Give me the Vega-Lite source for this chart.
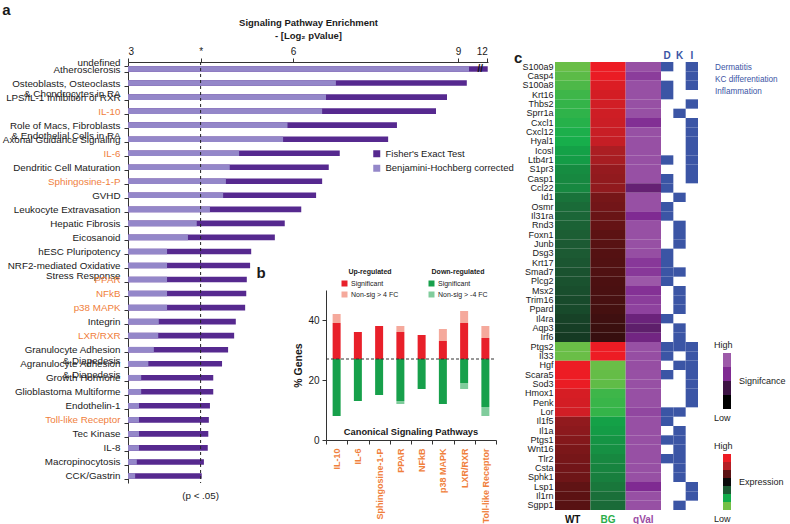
{
  "$schema": "https://vega.github.io/schema/vega-lite/v6.json",
  "background": "white",
  "padding": {"left": 2, "top": 2, "right": 0, "bottom": 0},
  "config": {
    "font": "Liberation Sans",
    "view": {"stroke": null},
    "axis": {"grid": false, "domainColor": "#333333", "tickColor": "#333333", "labelColor": "#1a1a1a", "titleColor": "#1a1a1a"},
    "legend": {"labelColor": "#1a1a1a", "titleColor": "#1a1a1a"},
    "title": {"color": "#1a1a1a"}
  },
  "datasets": {
    "pathways": [
      {"p": "Atherosclerosis", "test": "Fisher's Exact Test", "v": 12.1},
      {"p": "Osteoblasts, Osteoclasts|& Chondrocytes in RA", "test": "Fisher's Exact Test", "v": 9.16},
      {"p": "LPS/IL-1 Inhibition of RXR", "test": "Fisher's Exact Test", "v": 8.8},
      {"p": "IL-10", "test": "Fisher's Exact Test", "v": 8.6},
      {"p": "Role of Macs, Fibroblasts|& Endothelial Cells in RA", "test": "Fisher's Exact Test", "v": 7.89},
      {"p": "Axonal Guidance Signaling", "test": "Fisher's Exact Test", "v": 7.73},
      {"p": "IL-6", "test": "Fisher's Exact Test", "v": 6.85},
      {"p": "Dendritic Cell Maturation", "test": "Fisher's Exact Test", "v": 6.65},
      {"p": "Sphingosine-1-P", "test": "Fisher's Exact Test", "v": 6.53},
      {"p": "GVHD", "test": "Fisher's Exact Test", "v": 6.42},
      {"p": "Leukocyte Extravasation", "test": "Fisher's Exact Test", "v": 6.15},
      {"p": "Hepatic Fibrosis", "test": "Fisher's Exact Test", "v": 5.85},
      {"p": "Eicosanoid", "test": "Fisher's Exact Test", "v": 5.67},
      {"p": "hESC Pluripotency", "test": "Fisher's Exact Test", "v": 5.24},
      {"p": "NRF2-mediated Oxidative|Stress Response", "test": "Fisher's Exact Test", "v": 5.22},
      {"p": "PPAR", "test": "Fisher's Exact Test", "v": 5.16},
      {"p": "NFkB", "test": "Fisher's Exact Test", "v": 5.15},
      {"p": "p38 MAPK", "test": "Fisher's Exact Test", "v": 5.13},
      {"p": "Integrin", "test": "Fisher's Exact Test", "v": 4.96},
      {"p": "LXR/RXR", "test": "Fisher's Exact Test", "v": 4.93},
      {"p": "Granulocyte Adhesion|& Diapedesis", "test": "Fisher's Exact Test", "v": 4.82},
      {"p": "Agranulocyte Adhesion|& Diapedesis", "test": "Fisher's Exact Test", "v": 4.71},
      {"p": "Growth Hormone", "test": "Fisher's Exact Test", "v": 4.55},
      {"p": "Glioblastoma Multiforme", "test": "Fisher's Exact Test", "v": 4.55},
      {"p": "Endothelin-1", "test": "Fisher's Exact Test", "v": 4.49},
      {"p": "Toll-like Receptor", "test": "Fisher's Exact Test", "v": 4.47},
      {"p": "Tec Kinase", "test": "Fisher's Exact Test", "v": 4.46},
      {"p": "IL-8", "test": "Fisher's Exact Test", "v": 4.45},
      {"p": "Macropinocytosis", "test": "Fisher's Exact Test", "v": 4.38},
      {"p": "CCK/Gastrin", "test": "Fisher's Exact Test", "v": 4.34},
      {"p": "Atherosclerosis", "test": "Benjamini-Hochberg corrected", "v": 9.2},
      {"p": "Osteoblasts, Osteoclasts|& Chondrocytes in RA", "test": "Benjamini-Hochberg corrected", "v": 6.78},
      {"p": "LPS/IL-1 Inhibition of RXR", "test": "Benjamini-Hochberg corrected", "v": 6.6},
      {"p": "IL-10", "test": "Benjamini-Hochberg corrected", "v": 6.53},
      {"p": "Role of Macs, Fibroblasts|& Endothelial Cells in RA", "test": "Benjamini-Hochberg corrected", "v": 5.9},
      {"p": "Axonal Guidance Signaling", "test": "Benjamini-Hochberg corrected", "v": 5.82},
      {"p": "IL-6", "test": "Benjamini-Hochberg corrected", "v": 5.02},
      {"p": "Dendritic Cell Maturation", "test": "Benjamini-Hochberg corrected", "v": 4.85},
      {"p": "Sphingosine-1-P", "test": "Benjamini-Hochberg corrected", "v": 4.78},
      {"p": "GVHD", "test": "Benjamini-Hochberg corrected", "v": 4.73},
      {"p": "Leukocyte Extravasation", "test": "Benjamini-Hochberg corrected", "v": 4.49},
      {"p": "Hepatic Fibrosis", "test": "Benjamini-Hochberg corrected", "v": 4.25},
      {"p": "Eicosanoid", "test": "Benjamini-Hochberg corrected", "v": 4.09},
      {"p": "hESC Pluripotency", "test": "Benjamini-Hochberg corrected", "v": 3.71},
      {"p": "NRF2-mediated Oxidative|Stress Response", "test": "Benjamini-Hochberg corrected", "v": 3.71},
      {"p": "PPAR", "test": "Benjamini-Hochberg corrected", "v": 3.71},
      {"p": "NFkB", "test": "Benjamini-Hochberg corrected", "v": 3.71},
      {"p": "p38 MAPK", "test": "Benjamini-Hochberg corrected", "v": 3.71},
      {"p": "Integrin", "test": "Benjamini-Hochberg corrected", "v": 3.56},
      {"p": "LXR/RXR", "test": "Benjamini-Hochberg corrected", "v": 3.55},
      {"p": "Granulocyte Adhesion|& Diapedesis", "test": "Benjamini-Hochberg corrected", "v": 3.47},
      {"p": "Agranulocyte Adhesion|& Diapedesis", "test": "Benjamini-Hochberg corrected", "v": 3.37},
      {"p": "Growth Hormone", "test": "Benjamini-Hochberg corrected", "v": 3.24},
      {"p": "Glioblastoma Multiforme", "test": "Benjamini-Hochberg corrected", "v": 3.24},
      {"p": "Endothelin-1", "test": "Benjamini-Hochberg corrected", "v": 3.2},
      {"p": "Toll-like Receptor", "test": "Benjamini-Hochberg corrected", "v": 3.2},
      {"p": "Tec Kinase", "test": "Benjamini-Hochberg corrected", "v": 3.2},
      {"p": "IL-8", "test": "Benjamini-Hochberg corrected", "v": 3.2},
      {"p": "Macropinocytosis", "test": "Benjamini-Hochberg corrected", "v": 3.16},
      {"p": "CCK/Gastrin", "test": "Benjamini-Hochberg corrected", "v": 3.13}
    ],
    "bUp": [
      {"pw": "IL-10", "cat": "Significant", "lo": 27, "hi": 39},
      {"pw": "IL-10", "cat": "Non-sig > 4 FC", "lo": 39, "hi": 42},
      {"pw": "IL-6", "cat": "Significant", "lo": 27, "hi": 36},
      {"pw": "Sphingosine-1-P", "cat": "Significant", "lo": 27, "hi": 38},
      {"pw": "PPAR", "cat": "Significant", "lo": 27, "hi": 36},
      {"pw": "PPAR", "cat": "Non-sig > 4 FC", "lo": 36, "hi": 38},
      {"pw": "NFkB", "cat": "Significant", "lo": 27, "hi": 35},
      {"pw": "p38 MAPK", "cat": "Significant", "lo": 27, "hi": 33},
      {"pw": "p38 MAPK", "cat": "Non-sig > 4 FC", "lo": 33, "hi": 37},
      {"pw": "LXR/RXR", "cat": "Significant", "lo": 27, "hi": 39},
      {"pw": "LXR/RXR", "cat": "Non-sig > 4 FC", "lo": 39, "hi": 43},
      {"pw": "Toll-like Receptor", "cat": "Significant", "lo": 27, "hi": 34},
      {"pw": "Toll-like Receptor", "cat": "Non-sig > 4 FC", "lo": 34, "hi": 38}
    ],
    "bDown": [
      {"pw": "IL-10", "cat": "Significant", "lo": 8, "hi": 27},
      {"pw": "IL-6", "cat": "Significant", "lo": 13, "hi": 27},
      {"pw": "Sphingosine-1-P", "cat": "Significant", "lo": 15, "hi": 27},
      {"pw": "PPAR", "cat": "Significant", "lo": 13, "hi": 27},
      {"pw": "PPAR", "cat": "Non-sig > -4 FC", "lo": 12, "hi": 13},
      {"pw": "NFkB", "cat": "Significant", "lo": 17, "hi": 27},
      {"pw": "p38 MAPK", "cat": "Significant", "lo": 12, "hi": 27},
      {"pw": "LXR/RXR", "cat": "Significant", "lo": 19, "hi": 27},
      {"pw": "LXR/RXR", "cat": "Non-sig > -4 FC", "lo": 17, "hi": 19},
      {"pw": "Toll-like Receptor", "cat": "Significant", "lo": 11, "hi": 27},
      {"pw": "Toll-like Receptor", "cat": "Non-sig > -4 FC", "lo": 8, "hi": 11}
    ],
    "heatExpr": [
      {"gene": "S100a9", "col": "WT", "val": -2.9}, {"gene": "S100a9", "col": "BG", "val": 3.0},
      {"gene": "Casp4", "col": "WT", "val": -2.75}, {"gene": "Casp4", "col": "BG", "val": 2.95},
      {"gene": "S100a8", "col": "WT", "val": -2.6}, {"gene": "S100a8", "col": "BG", "val": 2.7},
      {"gene": "Krt16", "col": "WT", "val": -2.45}, {"gene": "Krt16", "col": "BG", "val": 2.55},
      {"gene": "Thbs2", "col": "WT", "val": -2.35}, {"gene": "Thbs2", "col": "BG", "val": 2.5},
      {"gene": "Sprr1a", "col": "WT", "val": -2.3}, {"gene": "Sprr1a", "col": "BG", "val": 2.45},
      {"gene": "Cxcl1", "col": "WT", "val": -2.2}, {"gene": "Cxcl1", "col": "BG", "val": 2.4},
      {"gene": "Cxcl12", "col": "WT", "val": -2.1}, {"gene": "Cxcl12", "col": "BG", "val": 2.35},
      {"gene": "Hyal1", "col": "WT", "val": -2.05}, {"gene": "Hyal1", "col": "BG", "val": 2.3},
      {"gene": "Icosl", "col": "WT", "val": -1.85}, {"gene": "Icosl", "col": "BG", "val": 1.9},
      {"gene": "Ltb4r1", "col": "WT", "val": -1.8}, {"gene": "Ltb4r1", "col": "BG", "val": 1.85},
      {"gene": "S1pr3", "col": "WT", "val": -1.6}, {"gene": "S1pr3", "col": "BG", "val": 1.65},
      {"gene": "Casp1", "col": "WT", "val": -1.55}, {"gene": "Casp1", "col": "BG", "val": 1.6},
      {"gene": "Ccl22", "col": "WT", "val": -1.55}, {"gene": "Ccl22", "col": "BG", "val": 1.6},
      {"gene": "Id1", "col": "WT", "val": -1.3}, {"gene": "Id1", "col": "BG", "val": 1.3},
      {"gene": "Osmr", "col": "WT", "val": -1.2}, {"gene": "Osmr", "col": "BG", "val": 1.25},
      {"gene": "Il31ra", "col": "WT", "val": -1.15}, {"gene": "Il31ra", "col": "BG", "val": 1.15},
      {"gene": "Rnd3", "col": "WT", "val": -1.1}, {"gene": "Rnd3", "col": "BG", "val": 1.1},
      {"gene": "Foxn1", "col": "WT", "val": -1.05}, {"gene": "Foxn1", "col": "BG", "val": 1.0},
      {"gene": "Junb", "col": "WT", "val": -1.0}, {"gene": "Junb", "col": "BG", "val": 0.95},
      {"gene": "Dsg3", "col": "WT", "val": -1.0}, {"gene": "Dsg3", "col": "BG", "val": 0.9},
      {"gene": "Krt17", "col": "WT", "val": -0.95}, {"gene": "Krt17", "col": "BG", "val": 0.88},
      {"gene": "Smad7", "col": "WT", "val": -0.9}, {"gene": "Smad7", "col": "BG", "val": 0.85},
      {"gene": "Plcg2", "col": "WT", "val": -0.9}, {"gene": "Plcg2", "col": "BG", "val": 0.8},
      {"gene": "Msx2", "col": "WT", "val": -0.85}, {"gene": "Msx2", "col": "BG", "val": 0.78},
      {"gene": "Trim16", "col": "WT", "val": -0.8}, {"gene": "Trim16", "col": "BG", "val": 0.75},
      {"gene": "Ppard", "col": "WT", "val": -0.8}, {"gene": "Ppard", "col": "BG", "val": 0.72},
      {"gene": "Il4ra", "col": "WT", "val": -0.7}, {"gene": "Il4ra", "col": "BG", "val": 0.65},
      {"gene": "Aqp3", "col": "WT", "val": -0.65}, {"gene": "Aqp3", "col": "BG", "val": 0.6},
      {"gene": "Irf6", "col": "WT", "val": -0.6}, {"gene": "Irf6", "col": "BG", "val": 0.55},
      {"gene": "Ptgs2", "col": "WT", "val": -2.9}, {"gene": "Ptgs2", "col": "BG", "val": 3.0},
      {"gene": "Il33", "col": "WT", "val": -2.9}, {"gene": "Il33", "col": "BG", "val": 3.0},
      {"gene": "Hgf", "col": "WT", "val": 3.0}, {"gene": "Hgf", "col": "BG", "val": -2.9},
      {"gene": "Scara5", "col": "WT", "val": 3.0}, {"gene": "Scara5", "col": "BG", "val": -2.85},
      {"gene": "Sod3", "col": "WT", "val": 2.95}, {"gene": "Sod3", "col": "BG", "val": -2.8},
      {"gene": "Hmox1", "col": "WT", "val": 2.6}, {"gene": "Hmox1", "col": "BG", "val": -2.45},
      {"gene": "Penk", "col": "WT", "val": 2.55}, {"gene": "Penk", "col": "BG", "val": -2.4},
      {"gene": "Lor", "col": "WT", "val": 2.5}, {"gene": "Lor", "col": "BG", "val": -2.35},
      {"gene": "Il1f5", "col": "WT", "val": 1.6}, {"gene": "Il1f5", "col": "BG", "val": -1.85},
      {"gene": "Il1a", "col": "WT", "val": 1.55}, {"gene": "Il1a", "col": "BG", "val": -1.8},
      {"gene": "Ptgs1", "col": "WT", "val": 1.45}, {"gene": "Ptgs1", "col": "BG", "val": -1.7},
      {"gene": "Wnt16", "col": "WT", "val": 1.35}, {"gene": "Wnt16", "col": "BG", "val": -1.65},
      {"gene": "Tlr2", "col": "WT", "val": 1.3}, {"gene": "Tlr2", "col": "BG", "val": -1.55},
      {"gene": "Csta", "col": "WT", "val": 1.25}, {"gene": "Csta", "col": "BG", "val": -1.5},
      {"gene": "Sphk1", "col": "WT", "val": 1.2}, {"gene": "Sphk1", "col": "BG", "val": -1.45},
      {"gene": "Lsp1", "col": "WT", "val": 1.05}, {"gene": "Lsp1", "col": "BG", "val": -1.35},
      {"gene": "Il1rn", "col": "WT", "val": 1.0}, {"gene": "Il1rn", "col": "BG", "val": -1.25},
      {"gene": "Sgpp1", "col": "WT", "val": 0.95}, {"gene": "Sgpp1", "col": "BG", "val": -1.2}
    ],
    "heatQ": [
      {"gene": "S100a9", "col": "qVal", "val": 2.8}, {"gene": "Casp4", "col": "qVal", "val": 2.4},
      {"gene": "S100a8", "col": "qVal", "val": 2.8}, {"gene": "Krt16", "col": "qVal", "val": 2.8},
      {"gene": "Thbs2", "col": "qVal", "val": 2.8}, {"gene": "Sprr1a", "col": "qVal", "val": 2.8},
      {"gene": "Cxcl1", "col": "qVal", "val": 2.1}, {"gene": "Cxcl12", "col": "qVal", "val": 2.8},
      {"gene": "Hyal1", "col": "qVal", "val": 2.8}, {"gene": "Icosl", "col": "qVal", "val": 2.8},
      {"gene": "Ltb4r1", "col": "qVal", "val": 2.8}, {"gene": "S1pr3", "col": "qVal", "val": 2.8},
      {"gene": "Casp1", "col": "qVal", "val": 2.8}, {"gene": "Ccl22", "col": "qVal", "val": 1.6},
      {"gene": "Id1", "col": "qVal", "val": 2.8}, {"gene": "Osmr", "col": "qVal", "val": 2.8},
      {"gene": "Il31ra", "col": "qVal", "val": 2.0}, {"gene": "Rnd3", "col": "qVal", "val": 2.8},
      {"gene": "Foxn1", "col": "qVal", "val": 2.8}, {"gene": "Junb", "col": "qVal", "val": 2.8},
      {"gene": "Dsg3", "col": "qVal", "val": 2.75}, {"gene": "Krt17", "col": "qVal", "val": 2.3},
      {"gene": "Smad7", "col": "qVal", "val": 2.3}, {"gene": "Plcg2", "col": "qVal", "val": 2.95},
      {"gene": "Msx2", "col": "qVal", "val": 2.15}, {"gene": "Trim16", "col": "qVal", "val": 2.4},
      {"gene": "Ppard", "col": "qVal", "val": 2.5}, {"gene": "Il4ra", "col": "qVal", "val": 1.7},
      {"gene": "Aqp3", "col": "qVal", "val": 1.5}, {"gene": "Irf6", "col": "qVal", "val": 1.8},
      {"gene": "Ptgs2", "col": "qVal", "val": 2.8}, {"gene": "Il33", "col": "qVal", "val": 2.75},
      {"gene": "Hgf", "col": "qVal", "val": 2.75}, {"gene": "Scara5", "col": "qVal", "val": 2.8},
      {"gene": "Sod3", "col": "qVal", "val": 2.8}, {"gene": "Hmox1", "col": "qVal", "val": 2.8},
      {"gene": "Penk", "col": "qVal", "val": 2.8}, {"gene": "Lor", "col": "qVal", "val": 2.6},
      {"gene": "Il1f5", "col": "qVal", "val": 2.8}, {"gene": "Il1a", "col": "qVal", "val": 2.8},
      {"gene": "Ptgs1", "col": "qVal", "val": 2.8}, {"gene": "Wnt16", "col": "qVal", "val": 2.8},
      {"gene": "Tlr2", "col": "qVal", "val": 2.8}, {"gene": "Csta", "col": "qVal", "val": 2.8},
      {"gene": "Sphk1", "col": "qVal", "val": 2.8}, {"gene": "Lsp1", "col": "qVal", "val": 2.0},
      {"gene": "Il1rn", "col": "qVal", "val": 2.8}, {"gene": "Sgpp1", "col": "qVal", "val": 2.8}
    ],
    "dki": [
      {"gene": "S100a9", "cat": "D"}, {"gene": "S100a9", "cat": "I"},
      {"gene": "Casp4", "cat": "I"},
      {"gene": "S100a8", "cat": "D"}, {"gene": "S100a8", "cat": "I"},
      {"gene": "Krt16", "cat": "D"},
      {"gene": "Thbs2", "cat": "I"},
      {"gene": "Sprr1a", "cat": "K"},
      {"gene": "Cxcl1", "cat": "I"},
      {"gene": "Cxcl12", "cat": "I"},
      {"gene": "Hyal1", "cat": "I"},
      {"gene": "Icosl", "cat": "I"},
      {"gene": "Ltb4r1", "cat": "D"}, {"gene": "Ltb4r1", "cat": "I"},
      {"gene": "S1pr3", "cat": "I"},
      {"gene": "Casp1", "cat": "D"}, {"gene": "Casp1", "cat": "I"},
      {"gene": "Ccl22", "cat": "D"},
      {"gene": "Id1", "cat": "K"},
      {"gene": "Osmr", "cat": "D"},
      {"gene": "Il31ra", "cat": "D"},
      {"gene": "Rnd3", "cat": "K"},
      {"gene": "Foxn1", "cat": "K"},
      {"gene": "Junb", "cat": "K"},
      {"gene": "Dsg3", "cat": "D"},
      {"gene": "Krt17", "cat": "D"},
      {"gene": "Smad7", "cat": "D"}, {"gene": "Smad7", "cat": "K"},
      {"gene": "Plcg2", "cat": "D"},
      {"gene": "Msx2", "cat": "K"},
      {"gene": "Trim16", "cat": "K"},
      {"gene": "Ppard", "cat": "K"},
      {"gene": "Il4ra", "cat": "D"},
      {"gene": "Aqp3", "cat": "K"},
      {"gene": "Irf6", "cat": "K"},
      {"gene": "Ptgs2", "cat": "D"}, {"gene": "Ptgs2", "cat": "K"}, {"gene": "Ptgs2", "cat": "I"},
      {"gene": "Il33", "cat": "D"}, {"gene": "Il33", "cat": "I"},
      {"gene": "Hgf", "cat": "K"}, {"gene": "Hgf", "cat": "I"},
      {"gene": "Scara5", "cat": "D"}, {"gene": "Scara5", "cat": "I"},
      {"gene": "Sod3", "cat": "I"},
      {"gene": "Hmox1", "cat": "I"},
      {"gene": "Penk", "cat": "I"},
      {"gene": "Lor", "cat": "D"}, {"gene": "Lor", "cat": "K"},
      {"gene": "Il1f5", "cat": "D"},
      {"gene": "Il1a", "cat": "K"},
      {"gene": "Ptgs1", "cat": "D"}, {"gene": "Ptgs1", "cat": "K"},
      {"gene": "Wnt16", "cat": "K"},
      {"gene": "Tlr2", "cat": "D"}, {"gene": "Tlr2", "cat": "K"},
      {"gene": "Csta", "cat": "K"},
      {"gene": "Sphk1", "cat": "K"},
      {"gene": "Lsp1", "cat": "I"},
      {"gene": "Il1rn", "cat": "I"},
      {"gene": "Sgpp1", "cat": "K"}
    ]
  },
  "hconcat": [
    {
      "width": 360,
      "height": 421,
      "title": {"text": "a", "anchor": "start", "frame": "bounds", "fontSize": 15, "fontWeight": "bold", "offset": 0},
      "layer": [
        {
          "layer": [
            {
              "data": {"name": "pathways"},
              "mark": {"type": "bar"},
              "encoding": {
                "y": {
                  "field": "p", "type": "nominal", "sort": null,
                  "scale": {"paddingInner": 0.6, "paddingOuter": 0.3},
                  "axis": {
                    "title": null, "labelExpr": "split(datum.value, '|')", "labelFontSize": 9.8, "labelLineHeight": 10.5,
                    "labelOverlap": false, "labelPadding": 4, "tickSize": 4, "tickBand": "extent",
                    "minExtent": 116, "maxExtent": 116,
                    "labelColor": {"condition": {"test": "indexof(['IL-10','IL-6','Sphingosine-1-P','PPAR','NFkB','p38 MAPK','LXR/RXR','Toll-like Receptor'], datum.value) >= 0", "value": "#f0803c"}, "value": "#1a1a1a"}
                  }
                },
                "x": {
                  "field": "v", "type": "quantitative", "stack": null,
                  "scale": {"domain": [3, 9.4, 12.2], "range": [0, 352, 360], "zero": false, "nice": false},
                  "axis": {
                    "orient": "top", "values": [3, 4.32, 6, 9, 12],
                    "labelExpr": "datum.value == 4.32 ? '*' : datum.label",
                    "labelFontSize": 10, "tickSize": 4, "labelPadding": 2,
                    "title": ["Signaling Pathway Enrichment", "- [Log₂ pValue]"],
                    "titleFontSize": 9.5, "titleFontWeight": "bold", "titleLineHeight": 12.5, "titlePadding": 6
                  }
                },
                "x2": {"datum": 3},
                "color": {
                  "field": "test", "type": "nominal",
                  "scale": {"domain": ["Fisher's Exact Test", "Benjamini-Hochberg corrected"], "range": ["#56298f", "#9487c9"]},
                  "legend": {
                    "orient": "none", "legendX": 244, "legendY": 87, "title": null,
                    "symbolType": "square", "symbolSize": 49, "symbolStrokeWidth": 0,
                    "labelFontSize": 9.5, "labelOffset": 4, "rowPadding": 3.5, "padding": 0
                  }
                }
              }
            },
            {
              "data": {"values": [{}]},
              "mark": {"type": "text", "fontSize": 9.8, "dy": 20, "color": "#1a1a1a"},
              "encoding": {"x": {"datum": 4.32}, "y": {"datum": "CCK/Gastrin"}, "text": {"value": "(p < .05)"}}
            },
            {
              "data": {"values": [{}]},
              "mark": {"type": "text", "fontSize": 10, "fontWeight": "bold", "color": "#111111"},
              "encoding": {"x": {"datum": 9.5}, "y": {"datum": "Atherosclerosis"}, "text": {"value": "//"}}
            }
          ]
        },
        {
          "data": {"values": [{}]},
          "mark": {"type": "rule", "strokeDash": [3, 3], "color": "#222222", "strokeWidth": 1},
          "encoding": {"x": {"datum": 4.32, "scale": {"domain": [3, 9.4, 12.2], "range": [0, 352, 360], "zero": false, "nice": false}, "axis": null}}
        },
        {
          "layer": [
            {
              "encoding": {
                "x": {
                  "field": "pw", "type": "nominal", "sort": null,
                  "scale": {"domain": ["IL-10", "IL-6", "Sphingosine-1-P", "PPAR", "NFkB", "p38 MAPK", "LXR/RXR", "Toll-like Receptor"], "range": [198, 368], "paddingInner": 0, "paddingOuter": 0},
                  "axis": {
                    "orient": "bottom", "offset": -43, "labelAngle": -90, "labelColor": "#f0803c", "labelFontWeight": "bold",
                    "labelFontSize": 9, "labelPadding": 4, "tickSize": 4, "tickBand": "extent",
                    "title": "b", "titleX": 128, "titleY": -168, "titleFontSize": 15, "titleFontWeight": "bold",
                    "titleAngle": 0, "titleAlign": "left", "titleBaseline": "middle"
                  }
                },
                "y": {
                  "field": "lo", "type": "quantitative",
                  "scale": {"domain": [0, 50], "range": [378, 228], "zero": false, "nice": false},
                  "axis": {
                    "orient": "left", "offset": -198, "values": [0, 20, 40], "title": "% Genes",
                    "titleFontSize": 10.5, "titleFontWeight": "bold", "titlePadding": 4,
                    "labelFontSize": 10, "labelPadding": 3, "tickSize": 4
                  }
                },
                "y2": {"field": "hi"}
              },
              "layer": [
                {
                  "data": {"name": "bUp"},
                  "mark": {"type": "bar", "width": 8},
                  "encoding": {
                    "color": {
                      "field": "cat", "type": "nominal",
                      "scale": {"domain": ["Significant", "Non-sig > 4 FC"], "range": ["#e8202a", "#f5a99c"]},
                      "legend": {
                        "orient": "none", "legendX": 213, "legendY": 206, "title": "Up-regulated",
                        "titleFontSize": 7, "titleFontWeight": "bold", "titleAnchor": "middle", "titlePadding": 5,
                        "symbolType": "square", "symbolSize": 36, "symbolStrokeWidth": 0,
                        "labelFontSize": 7, "labelOffset": 3, "rowPadding": 3, "padding": 0
                      }
                    }
                  }
                },
                {
                  "data": {"name": "bDown"},
                  "mark": {"type": "bar", "width": 8},
                  "encoding": {
                    "fill": {
                      "field": "cat", "type": "nominal",
                      "scale": {"domain": ["Significant", "Non-sig > -4 FC"], "range": ["#17a04b", "#80cc9c"]},
                      "legend": {
                        "orient": "none", "legendX": 300, "legendY": 206, "title": "Down-regulated",
                        "titleFontSize": 7, "titleFontWeight": "bold", "titleAnchor": "middle", "titlePadding": 5,
                        "symbolType": "square", "symbolSize": 36, "symbolStrokeWidth": 0,
                        "labelFontSize": 7, "labelOffset": 3, "rowPadding": 3, "padding": 0
                      }
                    }
                  }
                }
              ]
            },
            {
              "data": {"values": [{}]},
              "mark": {"type": "rule", "strokeDash": [3, 2], "color": "#333333"},
              "encoding": {
                "x": {"datum": "IL-10", "bandPosition": 0},
                "x2": {"datum": "Toll-like Receptor", "bandPosition": 1},
                "y": {"datum": 27}
              }
            },
            {
              "data": {"values": [{}]},
              "mark": {"type": "text", "fontSize": 9.3, "fontWeight": "bold", "color": "#1a1a1a"},
              "encoding": {
                "x": {"datum": "NFkB", "bandPosition": 0},
                "y": {"datum": 2.7},
                "text": {"value": "Canonical Signaling Pathways"}
              }
            }
          ]
        }
      ],
      "resolve": {
        "scale": {"x": "independent", "y": "independent", "color": "independent"},
        "axis": {"x": "independent", "y": "independent"},
        "legend": {"color": "independent"}
      }
    },
    {
      "width": 143,
      "height": 448,
      "title": {"text": "c", "anchor": "start", "frame": "bounds", "fontSize": 15, "fontWeight": "bold", "offset": -16},
      "layer": [
        {
          "encoding": {
            "x": {
              "field": "col", "type": "nominal", "sort": null,
              "scale": {"domain": ["WT", "BG", "qVal"], "range": [0, 106], "paddingInner": 0, "paddingOuter": 0},
              "axis": {
                "orient": "bottom", "title": null, "domain": false, "ticks": false, "labelAngle": 0,
                "labelFontWeight": "bold", "labelFontSize": 10, "labelPadding": 4,
                "labelColor": {"condition": [{"test": "datum.value == 'BG'", "value": "#2bae4a"}, {"test": "datum.value == 'qVal'", "value": "#9b4ca4"}], "value": "#111111"}
              }
            },
            "y": {
              "field": "gene", "type": "nominal", "sort": null,
              "scale": {"domain": ["S100a9","Casp4","S100a8","Krt16","Thbs2","Sprr1a","Cxcl1","Cxcl12","Hyal1","Icosl","Ltb4r1","S1pr3","Casp1","Ccl22","Id1","Osmr","Il31ra","Rnd3","Foxn1","Junb","Dsg3","Krt17","Smad7","Plcg2","Msx2","Trim16","Ppard","Il4ra","Aqp3","Irf6","Ptgs2","Il33","Hgf","Scara5","Sod3","Hmox1","Penk","Lor","Il1f5","Il1a","Ptgs1","Wnt16","Tlr2","Csta","Sphk1","Lsp1","Il1rn","Sgpp1"], "paddingInner": 0, "paddingOuter": 0},
              "axis": {"title": null, "domain": false, "ticks": false, "labelFontSize": 9, "labelPadding": 2, "minExtent": 41, "maxExtent": 41, "labelOverlap": false}
            }
          },
          "layer": [
            {
              "data": {"name": "heatExpr"},
              "mark": {"type": "rect"},
              "encoding": {
                "color": {"field": "val", "type": "quantitative", "scale": {"domain": [-3, -2, -1, 0, 1, 2, 3], "range": ["#74c046", "#12ad4b", "#1c5a33", "#0a0a0a", "#5c1213", "#b41f25", "#ed1c24"], "interpolate": "rgb"}, "legend": null}
              }
            },
            {
              "data": {"name": "heatQ"},
              "mark": {"type": "rect"},
              "encoding": {
                "fill": {"field": "val", "type": "quantitative", "scale": {"domain": [0, 1, 2, 3], "range": ["#000000", "#3d1344", "#7f2a92", "#9d5aa9"], "interpolate": "rgb"}, "legend": null}
              }
            }
          ]
        },
        {
          "data": {"name": "dki"},
          "mark": {"type": "rect", "color": "#3b55a5"},
          "encoding": {
            "x": {
              "field": "cat", "type": "nominal", "sort": null,
              "scale": {"domain": ["D", "K", "I"], "range": [106, 143], "paddingInner": 0, "paddingOuter": 0},
              "axis": {"orient": "top", "title": null, "domain": false, "ticks": false, "labelAngle": 0, "labelFontWeight": "bold", "labelColor": "#3b55a5", "labelFontSize": 10, "labelPadding": 2}
            },
            "y": {
              "field": "gene", "type": "nominal", "sort": null,
              "scale": {"domain": ["S100a9","Casp4","S100a8","Krt16","Thbs2","Sprr1a","Cxcl1","Cxcl12","Hyal1","Icosl","Ltb4r1","S1pr3","Casp1","Ccl22","Id1","Osmr","Il31ra","Rnd3","Foxn1","Junb","Dsg3","Krt17","Smad7","Plcg2","Msx2","Trim16","Ppard","Il4ra","Aqp3","Irf6","Ptgs2","Il33","Hgf","Scara5","Sod3","Hmox1","Penk","Lor","Il1f5","Il1a","Ptgs1","Wnt16","Tlr2","Csta","Sphk1","Lsp1","Il1rn","Sgpp1"], "paddingInner": 0, "paddingOuter": 0},
              "axis": null
            }
          }
        },
        {
          "data": {"values": [{"k": "D", "lab": "Dermatitis"}, {"k": "K", "lab": "KC differentiation"}, {"k": "I", "lab": "Inflammation"}]},
          "mark": {"type": "text", "align": "left", "baseline": "middle", "fontSize": 8.2, "color": "#3b55a5"},
          "encoding": {
            "y": {"field": "k", "type": "nominal", "sort": null, "scale": {"domain": ["D", "K", "I"], "range": [0, 36], "paddingInner": 0, "paddingOuter": 0}, "axis": null},
            "x": {"datum": "t", "bandPosition": 0, "scale": {"domain": ["t"], "range": [159, 161], "paddingInner": 0, "paddingOuter": 0}, "axis": null},
            "text": {"field": "lab"}
          }
        },
        {
          "layer": [
            {
              "data": {"values": [{"k": "q3", "c": "bar", "val": 3}, {"k": "q2", "c": "bar", "val": 2}, {"k": "q1", "c": "bar", "val": 1}, {"k": "q0", "c": "bar", "val": 0}]},
              "mark": {"type": "rect"},
              "encoding": {
                "y": {"field": "k", "type": "nominal", "sort": null, "scale": {"domain": ["q3", "q2", "q1", "q0"], "range": [291, 347], "paddingInner": 0, "paddingOuter": 0}, "axis": null},
                "x": {"field": "c", "type": "nominal", "scale": {"domain": ["bar"], "range": [168, 176], "paddingInner": 0, "paddingOuter": 0}, "axis": null},
                "fill": {"field": "val", "type": "quantitative", "scale": {"domain": [0, 1, 2, 3], "range": ["#000000", "#3d1344", "#7f2a92", "#9d5aa9"], "interpolate": "rgb"}, "legend": null}
              }
            },
            {
              "data": {"values": [{}]},
              "mark": {"type": "text", "align": "left", "baseline": "bottom", "dx": -9, "dy": -3, "fontSize": 9, "color": "#1a1a1a"},
              "encoding": {"x": {"datum": "bar", "bandPosition": 0}, "y": {"datum": "q3", "bandPosition": 0}, "text": {"value": "High"}}
            },
            {
              "data": {"values": [{}]},
              "mark": {"type": "text", "align": "left", "baseline": "top", "dx": -9, "dy": 5, "fontSize": 9, "color": "#1a1a1a"},
              "encoding": {"x": {"datum": "bar", "bandPosition": 0}, "y": {"datum": "q0", "bandPosition": 1}, "text": {"value": "Low"}}
            },
            {
              "data": {"values": [{}]},
              "mark": {"type": "text", "align": "left", "baseline": "middle", "dx": 8, "fontSize": 9, "color": "#1a1a1a"},
              "encoding": {"x": {"datum": "bar", "bandPosition": 1}, "y": {"datum": "q1", "bandPosition": 0}, "text": {"value": "Signifcance"}}
            }
          ]
        },
        {
          "layer": [
            {
              "data": {"values": [{"k": "e3", "c": "bar", "val": 3}, {"k": "e2", "c": "bar", "val": 2}, {"k": "e1", "c": "bar", "val": 1}, {"k": "e0", "c": "bar", "val": 0}, {"k": "em1", "c": "bar", "val": -1}, {"k": "em2", "c": "bar", "val": -2}, {"k": "em3", "c": "bar", "val": -3}]},
              "mark": {"type": "rect"},
              "encoding": {
                "y": {"field": "k", "type": "nominal", "sort": null, "scale": {"domain": ["e3", "e2", "e1", "e0", "em1", "em2", "em3"], "range": [392, 448], "paddingInner": 0, "paddingOuter": 0}, "axis": null},
                "x": {"field": "c", "type": "nominal", "scale": {"domain": ["bar"], "range": [168, 176], "paddingInner": 0, "paddingOuter": 0}, "axis": null},
                "color": {"field": "val", "type": "quantitative", "scale": {"domain": [-3, -2, -1, 0, 1, 2, 3], "range": ["#74c046", "#12ad4b", "#1c5a33", "#0a0a0a", "#5c1213", "#b41f25", "#ed1c24"], "interpolate": "rgb"}, "legend": null}
              }
            },
            {
              "data": {"values": [{}]},
              "mark": {"type": "text", "align": "left", "baseline": "bottom", "dx": -9, "dy": -3, "fontSize": 9, "color": "#1a1a1a"},
              "encoding": {"x": {"datum": "bar", "bandPosition": 0}, "y": {"datum": "e3", "bandPosition": 0}, "text": {"value": "High"}}
            },
            {
              "data": {"values": [{}]},
              "mark": {"type": "text", "align": "left", "baseline": "top", "dx": -9, "dy": 5, "fontSize": 9, "color": "#1a1a1a"},
              "encoding": {"x": {"datum": "bar", "bandPosition": 0}, "y": {"datum": "em3", "bandPosition": 1}, "text": {"value": "Low"}}
            },
            {
              "data": {"values": [{}]},
              "mark": {"type": "text", "align": "left", "baseline": "middle", "dx": 8, "fontSize": 9, "color": "#1a1a1a"},
              "encoding": {"x": {"datum": "bar", "bandPosition": 1}, "y": {"datum": "e0", "bandPosition": 0.5}, "text": {"value": "Expression"}}
            }
          ]
        }
      ],
      "resolve": {
        "scale": {"x": "independent", "y": "independent"},
        "axis": {"x": "independent", "y": "independent"}
      }
    }
  ],
  "spacing": 0,
  "resolve": {
    "scale": {"color": "independent", "fill": "independent"},
    "legend": {"color": "independent", "fill": "independent"}
  }
}
